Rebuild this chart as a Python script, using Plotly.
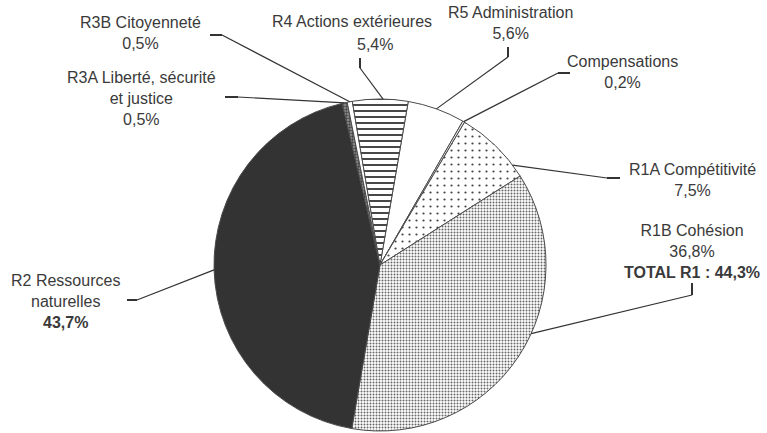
import math
import plotly.graph_objects as go

# ---------------- data ----------------
categories = ["R5 Administration", "Compensations", "R1A Compétitivité", "R1B Cohésion",
              "R2 Ressources naturelles", "R3A Liberté, sécurité et justice",
              "R3B Citoyenneté", "R4 Actions extérieures"]
values = [5.6, 0.2, 7.5, 36.8, 43.7, 0.5, 0.5, 5.4]
name_lines = [["R5 Administration"], ["Compensations"], ["R1A Compétitivité"], ["R1B Cohésion"],
              ["R2 Ressources", "naturelles"], ["R3A Liberté, sécurité", "et justice"],
              ["R3B Citoyenneté"], ["R4 Actions extérieures"]]
bold_pct = [False, False, False, False, True, False, False, False]
total_r1_label = "TOTAL R1 : 44,3%"

# ---------------- style ----------------
W, H = 767, 433
CX, CY, R = 380, 265, 166
ROT = 9.8
TXT = "#3a3a3a"
FONT = "Liberation Sans, Arial, sans-serif"

fill = ["#ffffff", "#ececec", "#ffffff", "#ffffff", "#333333", "#9a9a9a", "#ffffff", "#ffffff"]
p_shape = ["", "", ".", ".", "", ".", "", "-"]
p_size = [8, 8, 7, 3, 8, 3, 8, 6]
p_solid = [0.3, 0.3, 0.08, 0.35, 0.3, 0.5, 0.3, 0.3]
p_fg = ["#444444", "#444444", "#444444", "#666666", "#333333", "#444444", "#444444", "#333333"]
p_bg = fill

# where along each slice the leader line touches the rim (fraction of the slice)
attach = [0.5, 0.5, 0.83, 0.43, 0.5, 0.5, 0.5, 0.55]
# label anchors (pixel coords): x centre, y middle
lab_pos = [(510, 23), (622, 72), (692, 180), (692, 251), (65, 301), (141, 98), (140, 33), (352, 22)]
# leader tick segments (pixel coords): (start, end) -> then line from end to slice edge
ticks = [((508, 47), (508, 57)), ((570, 73), (558, 73)), ((620, 178), (607, 178)),
         ((692, 283), (692, 295)), ((127, 300), (137, 300)), ((225, 97), (238, 97)),
         ((210, 35), (222, 35)), ((360, 58), (360, 68))]


def px(x):
    return x / W


def py(y):
    return 1 - y / H


def fmt(v):
    return f"{v:.1f}".replace(".", ",") + "%"


fig = go.Figure(go.Pie(
    labels=categories, values=values, sort=False, direction="clockwise", rotation=ROT,
    textinfo="none", textposition="none", hoverinfo="skip", showlegend=False,
    domain=dict(x=[px(CX - R), px(CX + R)], y=[py(CY + R), py(CY - R)]),
    marker=dict(colors=fill, line=dict(color="#4a4a4a", width=1),
                pattern=dict(shape=p_shape, size=p_size, solidity=p_solid,
                             fgcolor=p_fg, bgcolor=p_bg, fillmode="replace")),
))

total = sum(values)
cum = 0.0
shapes = []
annotations = []
for i, v in enumerate(values):
    ang = math.radians(ROT + 360.0 * (cum + v * attach[i]) / total)
    cum += v
    ex, ey = CX + R * math.sin(ang), CY - R * math.cos(ang)
    (t0x, t0y), (t1x, t1y) = ticks[i]
    shapes.append(dict(type="line", xref="paper", yref="paper",
                       x0=px(t0x), y0=py(t0y), x1=px(t1x), y1=py(t1y),
                       line=dict(color="#333333", width=2)))
    shapes.append(dict(type="line", xref="paper", yref="paper",
                       x0=px(t1x), y0=py(t1y), x1=px(ex), y1=py(ey),
                       line=dict(color="#333333", width=1.2)))
    pct = fmt(v)
    if bold_pct[i]:
        pct = "<b>" + pct + "</b>"
    lx, ly = lab_pos[i]
    if i == 7:  # R4: percent is offset from the name line
        annotations.append(dict(text=name_lines[i][0], x=px(lx), y=py(ly)))
        annotations.append(dict(text=pct, x=px(375), y=py(45)))
        continue
    lines = name_lines[i] + [pct]
    if i == 3:
        lines = lines + ["<b>" + total_r1_label + "</b>"]
    annotations.append(dict(text="<br>".join(lines), x=px(lx), y=py(ly)))

for a in annotations:
    a.update(xref="paper", yref="paper", showarrow=False, xanchor="center",
             yanchor="middle", align="center", font=dict(family=FONT, size=16, color=TXT))

fig.update_layout(width=W, height=H, margin=dict(l=0, r=0, t=0, b=0),
                  paper_bgcolor="white", plot_bgcolor="white",
                  shapes=shapes, annotations=annotations)
fig.write_html("out.html")
